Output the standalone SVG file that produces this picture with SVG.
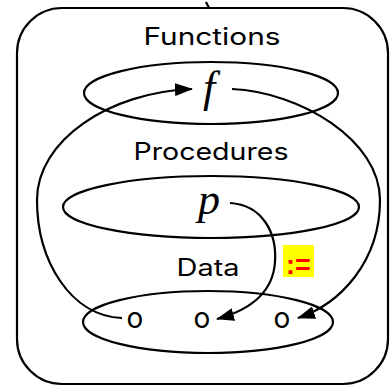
<svg xmlns="http://www.w3.org/2000/svg" width="390" height="386" viewBox="0 0 390 386">
<defs>
<style>
.ln{fill:none;stroke:#000;stroke-width:2.2}
.lbl{font-family:Inter,"Liberation Sans",Arial,sans-serif;font-size:24px;fill:#000;text-anchor:middle}
.o{font-family:Inter,"Liberation Sans",Arial,sans-serif;font-size:28px;fill:#000;text-anchor:middle}
.math{font-family:"Liberation Serif","Times New Roman",serif;font-style:italic;font-size:44px;fill:#000;text-anchor:middle}
</style>
<marker id="ah" viewBox="0 0 18 13" refX="17" refY="6.5" markerWidth="18" markerHeight="13" markerUnits="userSpaceOnUse" orient="auto">
<path d="M0,0 L18,6.5 L0,13 Z" fill="#000"/>
</marker>
</defs>
<rect width="390" height="386" fill="#fff"/>
<g id="frame">
<rect class="ln" x="17" y="8" width="371" height="376" rx="45" ry="45"/>
<path class="ln" d="M206,2 L209,8" stroke-width="1.5"/>
</g>
<g id="functions">
<text class="lbl" x="212" y="45" textLength="137" lengthAdjust="spacingAndGlyphs">Functions</text>
<ellipse class="ln" cx="211" cy="93" rx="127" ry="31"/>
<text class="math" x="209" y="102">f</text>
</g>
<g id="procedures">
<text class="lbl" x="211" y="160" textLength="155" lengthAdjust="spacingAndGlyphs">Procedures</text>
<ellipse class="ln" cx="211" cy="207" rx="148" ry="31"/>
<text class="math" x="209" y="214" font-size="46">p</text>
</g>
<g id="data">
<text class="lbl" x="208" y="276" textLength="63" lengthAdjust="spacingAndGlyphs">Data</text>
<ellipse class="ln" cx="208" cy="322" rx="125" ry="31"/>
<text class="o" x="135" y="328">o</text>
<text class="o" x="202" y="328">o</text>
<text class="o" x="282" y="328">o</text>
</g>
<g id="assign">
<rect x="283" y="245" width="31" height="32" fill="#ffff00"/>
<text x="298.5" y="274" font-family="'Liberation Sans',Arial,sans-serif" font-weight="bold" font-size="27" fill="#ff0000" text-anchor="middle">:=</text>
</g>
<g id="connectors">
<path class="ln" d="M122,318 C70,316 37,260 37,200 C37,140 110,92 192,89" marker-end="url(#ah)"/>
<path class="ln" d="M232,89 C300,92 380,140 380,200 C380,262 340,304 298,318" marker-end="url(#ah)"/>
<path class="ln" d="M230,203 C262,205 277,232 275,262 C273,292 250,310 217,319" marker-end="url(#ah)"/>
</g>
</svg>
